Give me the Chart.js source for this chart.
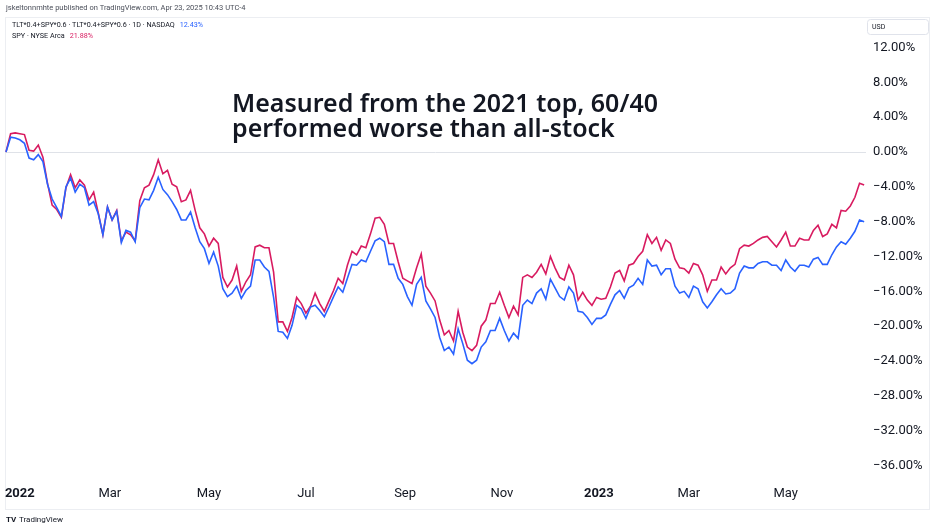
<!DOCTYPE html>
<html><head><meta charset="utf-8">
<script src="https://cdn.jsdelivr.net/npm/chart.js@4.4.1/dist/chart.umd.min.js"></script>
<style>html,body{margin:0;padding:0;background:#fff;overflow:hidden}canvas{display:block}</style>
</head><body>
<canvas id="c" width="936" height="532"></canvas>
<script>
// trading-day index (0 = first bar, late Dec 2021), every 2nd session
const tradingDay = [0,2,4,6,8,10,12,14,16,18,20,22,24,26,28,30,32,34,36,38,40,42,44,46,48,50,52,54,56,58,60,62,64,66,68,70,72,74,76,78,80,82,84,86,88,90,92,94,96,98,100,102,104,106,108,110,112,114,116,118,120,122,124,126,128,130,132,134,136,138,140,142,144,146,148,150,152,154,156,158,160,162,164,166,168,170,172,174,176,178,180,182,184,186,188,190,192,194,196,198,200,202,204,206,208,210,212,214,216,218,220,222,224,226,228,230,232,234,236,238,240,242,244,246,248,250,252,254,256,258,260,262,264,266,268,270,272,274,276,278,280,282,284,286,288,290,292,294,296,298,300,302,304,306,308,310,312,314,316,318,320,322,324,326,328,330,332,334,336,338,340,342,344,346,348,350,352,354,356,358,360,362,364,366,368,370,372];

// TLT*0.4+SPY*0.6, % change from first bar
const mixPct = [0.0,1.7,1.6,1.4,1.0,-0.7,-0.9,-0.3,-1.1,-3.7,-5.4,-6.4,-7.4,-4.0,-3.0,-4.6,-3.7,-4.1,-6.1,-5.7,-7.1,-9.5,-6.3,-7.8,-6.8,-10.4,-9.0,-9.2,-10.3,-6.4,-5.4,-5.5,-4.4,-2.9,-4.3,-4.9,-5.7,-6.6,-7.8,-7.8,-6.9,-8.7,-10.3,-11.1,-12.8,-11.5,-13.1,-15.7,-16.6,-16.2,-15.4,-16.8,-15.9,-15.4,-12.4,-12.4,-13.2,-13.7,-16.7,-20.6,-20.7,-21.4,-19.9,-17.6,-18.0,-19.1,-17.8,-17.6,-18.2,-18.9,-17.8,-16.6,-15.5,-16.1,-14.5,-12.9,-13.0,-12.4,-12.6,-11.4,-10.2,-9.9,-10.3,-12.9,-12.9,-14.5,-15.2,-16.6,-17.6,-15.2,-14.4,-17.1,-18.0,-19.0,-21.3,-22.8,-22.4,-23.2,-20.3,-22.0,-23.9,-24.3,-23.9,-22.4,-21.8,-20.5,-20.5,-19.1,-20.5,-21.7,-20.8,-21.4,-17.6,-17.0,-17.4,-16.2,-15.7,-16.9,-14.6,-15.6,-16.6,-17.0,-15.5,-16.2,-18.3,-18.4,-19.0,-19.8,-19.1,-19.1,-18.7,-17.5,-16.4,-15.9,-16.8,-15.6,-15.3,-14.5,-15.2,-12.4,-13.1,-13.0,-14.1,-13.4,-13.4,-15.4,-16.2,-16.0,-16.7,-15.4,-15.7,-17.2,-17.9,-17.2,-16.4,-15.7,-16.3,-16.2,-15.7,-13.9,-13.1,-13.3,-13.3,-12.8,-12.6,-12.6,-13.0,-13.0,-13.6,-12.4,-13.2,-13.7,-13.0,-13.0,-13.2,-12.3,-12.1,-12.9,-12.9,-11.8,-10.9,-10.3,-10.6,-9.9,-9.1,-7.8,-8.0];

// SPY, % change from first bar
const spyPct = [0.0,2.1,2.2,2.1,2.0,0.2,0.1,0.8,-0.6,-3.6,-6.1,-6.6,-7.5,-4.1,-2.6,-4.1,-3.2,-3.8,-5.5,-4.6,-7.0,-9.5,-6.3,-7.8,-6.7,-10.2,-9.2,-9.5,-10.2,-5.6,-4.1,-3.8,-2.6,-0.9,-2.5,-2.1,-3.7,-4.0,-5.7,-5.5,-4.4,-6.7,-8.7,-9.4,-10.8,-9.9,-10.5,-14.4,-15.5,-14.7,-13.1,-16.0,-14.9,-14.1,-10.9,-10.7,-11.0,-11.0,-13.8,-19.5,-19.5,-20.6,-19.0,-16.7,-17.4,-18.5,-17.7,-16.2,-17.4,-18.3,-17.1,-15.9,-14.5,-15.1,-13.0,-11.4,-11.8,-10.8,-11.0,-9.4,-7.6,-7.5,-8.3,-10.5,-10.5,-12.6,-14.5,-14.8,-15.1,-13.3,-11.7,-15.4,-16.2,-17.1,-19.3,-21.0,-20.5,-21.7,-18.3,-20.7,-22.4,-22.8,-22.2,-20.0,-19.3,-17.4,-17.4,-16.1,-17.6,-19.0,-17.7,-18.7,-14.4,-14.1,-14.4,-13.8,-12.9,-14.0,-12.0,-13.3,-14.4,-14.7,-13.0,-14.1,-17.0,-16.1,-17.0,-17.6,-16.7,-16.9,-16.8,-15.5,-13.9,-13.6,-14.8,-13.0,-12.8,-12.0,-11.4,-9.5,-10.5,-9.8,-11.3,-10.1,-10.5,-12.3,-13.3,-13.4,-13.9,-12.8,-13.0,-14.1,-16.0,-14.7,-14.7,-13.2,-14.0,-13.3,-12.9,-11.1,-10.7,-10.8,-10.5,-10.1,-9.8,-9.7,-10.3,-10.9,-10.1,-9.2,-10.8,-10.8,-9.9,-10.1,-10.1,-9.0,-8.4,-9.7,-9.4,-8.3,-8.7,-6.7,-6.8,-6.2,-5.2,-3.6,-3.8];

// time-axis ticks (trading-day index of first session of the month)
const tickDays = [6, 45, 88, 130, 173, 215, 257, 296, 338];
const tickLabels = ['2022', 'Mar', 'May', 'Jul', 'Sep', 'Nov', '2023', 'Mar', 'May'];
const yTickValues = [12, 8, 4, 0, -4, -8, -12, -16, -20, -24, -28, -32, -36];

const BLUE = '#2962ff';
const PINK = '#d81b60';
const TXT = '#131722';

function pts(vals) { return tradingDay.map((d, i) => ({ x: d, y: vals[i] })); }

const decor = {
  id: 'decor',
  beforeDraw(chart) {
    const c = chart.ctx;
    c.save();
    c.fillStyle = '#ffffff';
    c.fillRect(0, 0, chart.width, chart.height);
    c.strokeStyle = '#eceef2';
    c.lineWidth = 1;
    c.strokeRect(5.5, 17.5, 924, 492);
    c.restore();
  },
  afterDraw(chart) {
    const c = chart.ctx;
    c.save();
    c.textBaseline = 'middle';
    c.textAlign = 'left';
    // publisher line
    c.font = '7.5px Roboto';
    c.fillStyle = '#4a4e59';
    c.fillText('jskeltonnmhte published on TradingView.com, Apr 23, 2025 10:43 UTC-4', 6, 8);
    // legend
    c.font = '7.2px Roboto';
    c.fillStyle = TXT;
    const l1 = 'TLT*0.4+SPY*0.6 · TLT*0.4+SPY*0.6 · 1D · NASDAQ';
    c.fillText(l1, 12, 25);
    c.fillStyle = BLUE;
    c.fillText('12.43%', 12 + c.measureText(l1).width + 5, 25);
    const l2 = 'SPY · NYSE Arca';
    c.fillStyle = TXT;
    c.fillText(l2, 12, 36);
    c.fillStyle = PINK;
    c.fillText('21.88%', 12 + c.measureText(l2).width + 5, 36);
    // USD box
    c.strokeStyle = '#e0e3eb';
    c.lineWidth = 1;
    c.beginPath();
    if (c.roundRect) c.roundRect(867.5, 19.5, 61, 15, 3); else c.rect(867.5, 19.5, 61, 15);
    c.stroke();
    c.fillStyle = TXT;
    c.font = '7px Roboto';
    c.fillText('USD', 872, 27);
    // annotation
    const line1 = 'Measured from the 2021 top, 60/40';
    const line2 = 'performed worse than all-stock';
    c.font = '600 100px "Noto Sans"';
    const w = c.measureText(line1).width;
    const fs = 100 * 426 / w;
    c.font = '600 ' + fs.toFixed(2) + 'px "Noto Sans"';
    c.fillStyle = '#131722';
    c.textBaseline = 'alphabetic';
    c.fillText(line1, 232, 112);
    c.fillText(line2, 232, 137);
    // logo
    c.textBaseline = 'middle';
    c.font = 'bold 8px Roboto';
    c.fillStyle = '#131722';
    c.fillText('TV', 6, 520);
    c.font = '8px Roboto';
    c.fillText('TradingView', 19, 520);
    c.restore();
  }
};

new Chart(document.getElementById('c'), {
  type: 'line',
  data: {
    datasets: [
      { label: 'SPY · NYSE Arca', data: pts(spyPct), borderColor: PINK, borderWidth: 1.6, pointRadius: 0, tension: 0, order: 2 },
      { label: 'TLT*0.4+SPY*0.6', data: pts(mixPct), borderColor: BLUE, borderWidth: 1.6, pointRadius: 0, tension: 0, order: 1 }
    ]
  },
  options: {
    responsive: false,
    animation: false,
    layout: { padding: { left: 5, top: 15, right: 0, bottom: 0 } },
    plugins: { legend: { display: false }, tooltip: { enabled: false } },
    scales: {
      x: {
        type: 'linear',
        min: -0.43,
        max: 372.8,
        grid: { display: false, drawTicks: false },
        border: { display: false },
        afterBuildTicks(s) { s.ticks = tickDays.map(v => ({ value: v })); },
        afterFit(s) { s.height = 52; s.paddingLeft = 0; s.paddingRight = 0; },
        ticks: {
          autoSkip: false,
          maxRotation: 0,
          padding: 6,
          color: TXT,
          font: (ctx) => {
            const v = ctx.tick ? ctx.tick.value : null;
            const lab = tickLabels[tickDays.indexOf(v)] || '';
            return { family: 'Roboto', size: 13, weight: /^\d{4}$/.test(lab) ? 'bold' : 'normal' };
          },
          callback: (v) => tickLabels[tickDays.indexOf(v)] || ''
        }
      },
      y: {
        position: 'right',
        min: -37.66,
        max: 15.73,
        grid: {
          drawTicks: false,
          color: (ctx) => (ctx.tick && ctx.tick.value === 0) ? '#dfe2e8' : 'rgba(0,0,0,0)',
          lineWidth: 1
        },
        border: { display: false },
        afterBuildTicks(s) { s.ticks = yTickValues.map(v => ({ value: v })); },
        afterFit(s) { s.width = 70; s.paddingTop = 0; s.paddingBottom = 0; },
        ticks: {
          padding: 7,
          crossAlign: 'near',
          color: TXT,
          font: { family: 'Roboto', size: 13 },
          callback: (v) => (v < 0 ? '\u2212' : '') + Math.abs(v).toFixed(2) + '%'
        }
      }
    }
  },
  plugins: [decor]
});
</script>
</body></html>
